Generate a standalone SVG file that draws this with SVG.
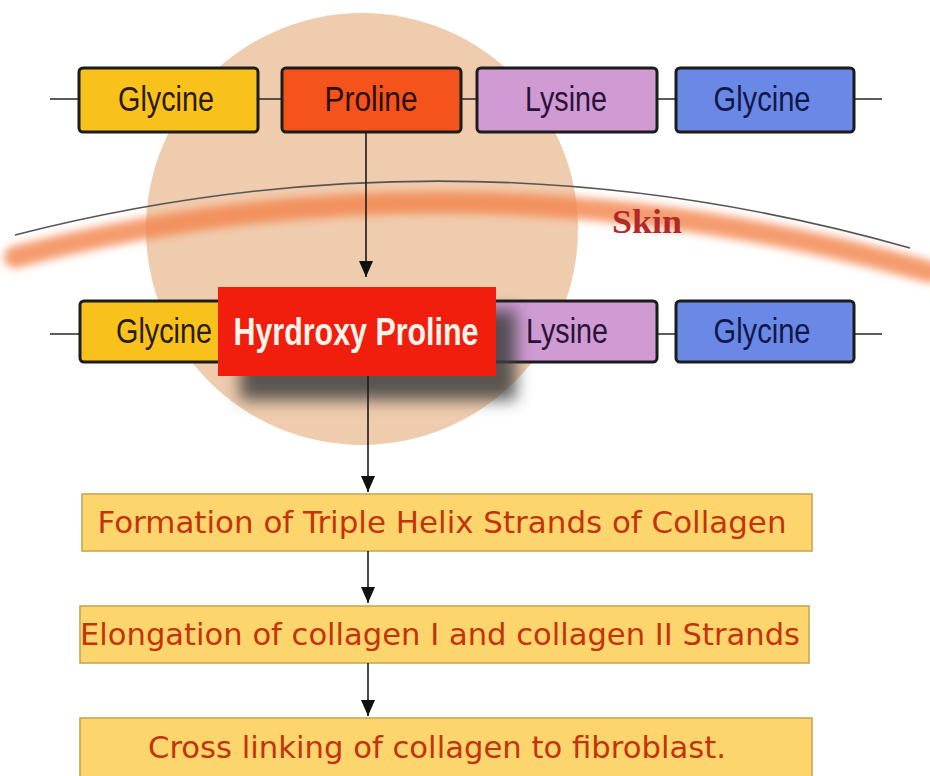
<svg xmlns="http://www.w3.org/2000/svg" width="930" height="776" viewBox="0 0 930 776">
<defs>
<style>
.aa{fill:none;stroke:#1a1a1a;stroke-width:1.6}
.link{stroke:#333;stroke-width:1.6}
.box{stroke:#1c1c1c;stroke-width:3}
.lbl{font-family:"Liberation Sans",Arial,sans-serif;font-size:28px;text-anchor:middle}
.step{fill:#fcd66c;stroke:#c9a553;stroke-width:1.6}
.stxt{font-family:"DejaVu Sans",sans-serif;font-size:30px;fill:#c3340e;text-anchor:middle}
</style>
<marker id="ah" viewBox="0 0 16 14" refX="16" refY="7" markerWidth="16" markerHeight="14" markerUnits="userSpaceOnUse" orient="auto">
<path d="M0 0 L16 7 L0 14 Z" fill="#111"/>
</marker>
<filter id="blurBand" x="-10%" y="-50%" width="120%" height="200%"><feGaussianBlur stdDeviation="4"/></filter>
<filter id="blurShadow" x="-20%" y="-40%" width="140%" height="180%"><feGaussianBlur stdDeviation="8"/></filter>
</defs>

<g id="background">
<circle cx="362" cy="229" r="216" fill="#f0ccae"/>
</g>

<g id="skin">
<path d="M15 257 Q462 141 930 272" fill="none" stroke="#f3824a" stroke-opacity="0.8" stroke-width="22" stroke-linecap="round" filter="url(#blurBand)"/>
<path d="M15 235 Q462 121 910 248" fill="none" stroke="#555" stroke-width="1.6"/>
<text x="647" y="233" font-family="'Liberation Serif','Times New Roman',serif" font-weight="bold" font-size="34" fill="#b02a2a" text-anchor="middle" textLength="70" lengthAdjust="spacingAndGlyphs">Skin</text>
</g>

<g id="chain1-links">
<line class="link" x1="50" y1="99" x2="79" y2="99"/>
<line class="link" x1="258" y1="99" x2="282" y2="99"/>
<line class="link" x1="461" y1="99" x2="477" y2="99"/>
<line class="link" x1="657" y1="99" x2="676" y2="99"/>
<line class="link" x1="854" y1="99" x2="882" y2="99"/>
</g>
<g id="glycine1">
<rect class="box" x="79" y="68" width="179" height="64" rx="4" fill="#f9c11c"/>
<text class="lbl" transform="translate(166 111) scale(1 1.25)" fill="#2a1a08" textLength="96" lengthAdjust="spacingAndGlyphs">Glycine</text>
</g>
<g id="proline1">
<rect class="box" x="282" y="68" width="179" height="64" rx="4" fill="#f5531c"/>
<text class="lbl" transform="translate(371 111) scale(1 1.25)" fill="#2a1008" textLength="93" lengthAdjust="spacingAndGlyphs">Proline</text>
</g>
<g id="lysine1">
<rect class="box" x="477" y="68" width="180" height="64" rx="4" fill="#cf9bd2"/>
<text class="lbl" transform="translate(566 111) scale(1 1.25)" fill="#2a1238" textLength="82" lengthAdjust="spacingAndGlyphs">Lysine</text>
</g>
<g id="glycine2">
<rect class="box" x="676" y="68" width="178" height="64" rx="4" fill="#6a88e6"/>
<text class="lbl" transform="translate(762 111) scale(1 1.25)" fill="#10184a" textLength="97" lengthAdjust="spacingAndGlyphs">Glycine</text>
</g>

<g id="chain2-links">
<line class="link" x1="50" y1="334" x2="80" y2="334"/>
<line class="link" x1="657" y1="334" x2="676" y2="334"/>
<line class="link" x1="854" y1="334" x2="882" y2="334"/>
</g>
<g id="glycine3">
<rect class="box" x="80" y="301" width="200" height="61" rx="4" fill="#f9c11c"/>
<text class="lbl" transform="translate(164 343) scale(1 1.25)" fill="#2a1a08" textLength="96" lengthAdjust="spacingAndGlyphs">Glycine</text>
</g>
<g id="lysine2">
<rect class="box" x="440" y="301" width="217" height="61" rx="4" fill="#cf9bd2"/>
<text class="lbl" transform="translate(567 343) scale(1 1.25)" fill="#2a1238" textLength="82" lengthAdjust="spacingAndGlyphs">Lysine</text>
</g>
<g id="glycine4">
<rect class="box" x="676" y="301" width="178" height="61" rx="4" fill="#6a88e6"/>
<text class="lbl" transform="translate(762 343) scale(1 1.25)" fill="#10184a" textLength="97" lengthAdjust="spacingAndGlyphs">Glycine</text>
</g>

<g id="hydroxyproline">
<rect x="240" y="310" width="276" height="90" fill="#3e3e3e" fill-opacity="0.85" filter="url(#blurShadow)"/>
<rect x="218" y="287" width="278" height="89" fill="#f11d0d"/>
<text transform="translate(356 345) scale(1 1.3)" font-family="'Liberation Sans',Arial,sans-serif" font-weight="bold" font-size="30" fill="#fff4ea" text-anchor="middle" textLength="245" lengthAdjust="spacingAndGlyphs">Hyrdroxy Proline</text>
</g>

<g id="step1">
<rect class="step" x="82" y="494" width="730" height="57"/>
<text class="stxt" x="442" y="533" textLength="689" lengthAdjust="spacingAndGlyphs">Formation of Triple Helix Strands of Collagen</text>
</g>
<g id="step2">
<rect class="step" x="80" y="606" width="729" height="57"/>
<text class="stxt" x="440" y="645" textLength="720" lengthAdjust="spacingAndGlyphs">Elongation of collagen I and collagen II Strands</text>
</g>
<g id="step3">
<rect class="step" x="80" y="718" width="732" height="70"/>
<text class="stxt" x="437" y="758" textLength="578" lengthAdjust="spacingAndGlyphs">Cross linking of collagen to fibroblast.</text>
</g>

<g id="connectors">
<line class="aa" x1="366" y1="133" x2="366" y2="277" marker-end="url(#ah)"/>
<line class="aa" x1="368" y1="376" x2="368" y2="492" marker-end="url(#ah)"/>
<line class="aa" x1="368" y1="551" x2="368" y2="603" marker-end="url(#ah)"/>
<line class="aa" x1="368" y1="663" x2="368" y2="716" marker-end="url(#ah)"/>
</g>
</svg>
